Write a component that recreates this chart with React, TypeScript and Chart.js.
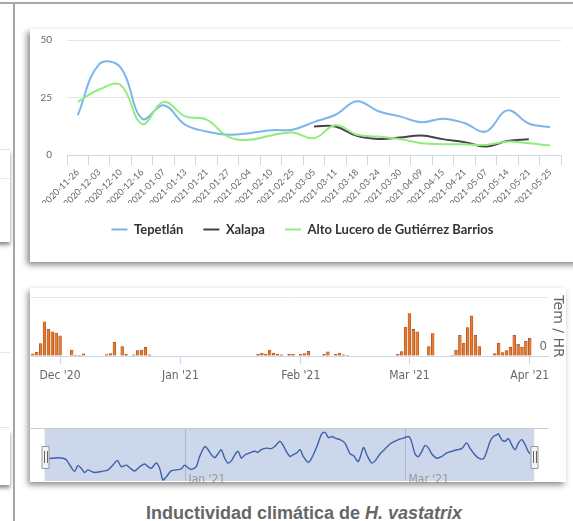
import React, { useEffect, useRef } from 'react';
import { Chart, registerables } from 'chart.js';

Chart.register(...registerables);

// ---------- Top chart (weekly index by locality) ----------
const weekLabels = [
  '2020-11-26', '2020-12-03', '2020-12-10', '2020-12-16', '2021-01-07', '2021-01-13',
  '2021-01-21', '2021-01-27', '2021-02-04', '2021-02-10', '2021-02-25', '2021-03-05',
  '2021-03-11', '2021-03-18', '2021-03-24', '2021-03-30', '2021-04-09', '2021-04-15',
  '2021-04-21', '2021-05-07', '2021-05-14', '2021-05-21', '2021-05-25',
];
const tepetlan = [17.3, 39.5, 38, 15.8, 21.6, 13.2, 10.2, 8.8, 9.5, 10.8, 11, 14.3, 17.5, 23.4, 19, 16.8, 14.2, 15.8, 13.9, 10.2, 19.4, 13.7, 12.1];
const xalapa = [null, null, null, null, null, null, null, null, null, null, null, 12.4, 12.4, 8.3, 7, 7.6, 8.5, 6.9, 5.6, 3.7, 6.1, 6.9, null];
const altoLucero = [23.1, 28.5, 30.4, 13.5, 23.1, 16.8, 15.4, 8, 6.6, 8.5, 9.8, 7.3, 12.9, 8.8, 8, 6.9, 5.1, 4.7, 4.7, 4.4, 5.8, 5.1, 4.1];
const seriesNames = ['Tepetlán', 'Xalapa', 'Alto Lucero de Gutiérrez Barrios'];
const yTicksTop = [0, 25, 50];

// ---------- Bottom chart (daily Tem / HR bars) ----------
const barStartDate = '2020-11-24';
const barValues = [
  0.35, 0.64, 2.1, 5.8, 4.5, 4.1, 3.9, 3.4,
  0, 0, 1.0, 0.17, 0.1, 0.35,
  0, 0, 0, 0, 0,
  0.25, 0.4, 2.3, 0, 1.6, 0.3,
  0, 0.2, 0.9, 1.0, 1.5, 0.2,
  0, 0, 0, 0, 0, 0, 0, 0, 0, 0, 0, 0, 0, 0, 0, 0, 0, 0, 0, 0, 0, 0, 0, 0, 0, 0, 0,
  0.3, 0.5, 0.3, 1.0, 0.5, 0.3, 0.2,
  0, 0.3, 0.3, 0, 0.3, 0.4, 0.8,
  0, 0, 0,
  0.3, 0.7, 0, 0.3, 0.5, 0.2, 0.1,
  0, 0, 0, 0, 0, 0, 0, 0, 0, 0, 0, 0,
  0.3, 0.75, 4.9, 7.2, 4.5, 4.1,
  0, 0,
  1.6, 3.8,
  0, 0, 0, 0,
  0.1, 1.0, 3.5, 2.2, 4.8, 6.8, 3.5, 1.6,
  0, 0, 0,
  0.4, 2.2, 0.6, 0.9, 1.5, 3.5, 2.0, 1.5, 2.5, 3.0,
];
const monthTickDates = ['2020-12-01', '2021-01-01', '2021-02-01', '2021-03-01', '2021-04-01'];
const monthTickLabels = ["Dec '20", "Jan '21", "Feb '21", "Mar '21", "Apr '21"];
const barRange = ['2020-11-23', '2021-04-05'];

// ---------- Navigator ----------
const navDays = [
  -5.4, -4.7, -2.9, -1.6, -0.7, 0.7, 1.5, 2.4, 3.3, 4.2, 5.1, 6.0, 6.9, 8.7, 10.5,
  11.8, 13.0, 14.0, 15.4, 16.3, 17.6, 19.0, 20.3, 21.2, 22.1, 23.4, 24.3, 25.2, 26.1, 27.4,
  28.8, 30.1, 31.0, 31.9, 32.8, 34.1, 35.0, 36.4, 37.3, 38.0, 39.0, 39.9, 40.8, 41.7, 42.6,
  43.5, 44.4, 45.3, 46.2, 47.1, 48.4, 49.8, 50.6, 51.5, 52.9, 54.2, 55.1, 56.5, 57.3, 58.2, 59.2,
  59.7, 61.0, 61.9, 62.8, 64.1, 65.0, 66.4, 67.7, 68.6, 69.5, 70.4, 71.3, 72.6, 73.9, 75.3,
  76.2, 77.5, 78.9, 79.8, 81.1, 82.0, 83.3, 84.7, 86.4, 88.2, 89.6, 90.9, 91.6, 92.7, 93.6,
  94.5, 95.4, 96.3, 97.2, 98.5, 99.8, 101.2, 102.5, 103.9, 105.2, 106.5, 107.4, 108.3, 109.7, 111.0,
  111.9, 112.8, 113.7, 114.6, 115.0, 115.9, 116.8, 117.7, 118.6, 119.5, 120.4, 121.3, 122.2, 123.0, 123.5,
];
const navValues = [
  42, 43, 44, 43, 40, 25, 18, 29, 24, 16, 21, 18, 16, 18, 21,
  30, 39, 27, 30, 25, 19, 27, 32, 27, 24, 34, 24, 2, 8, 19,
  21, 23, 30, 25, 22, 27, 46, 65, 59, 51, 44, 51, 59, 43, 34,
  38, 49, 56, 43, 49, 53, 56, 54, 59, 62, 61, 65, 75, 68, 56, 46,
  48, 53, 59, 46, 35, 43, 65, 89, 92, 82, 84, 81, 78, 72, 51,
  48, 37, 63, 49, 34, 38, 51, 61, 72, 78, 81, 84, 78, 51, 46,
  56, 67, 62, 51, 43, 46, 53, 56, 59, 61, 72, 62, 53, 43, 42,
  56, 75, 84, 87, 89, 78, 75, 80, 68, 59, 72, 78, 68, 56, 51,
];
const navTickDates = ['2021-01-01', '2021-03-01'];
const navTickLabels = ["Jan '21", "Mar '21"];
const navSelection = [-6.5, 124.6];
const navExtent = [-10.95, 128.3];

const caption = 'Inductividad climática de ';
const captionItalic = 'H. vastatrix';

const BASE = Date.UTC(2020, 11, 1);
const dayOf = (s: string) => {
  const [y, m, d] = s.split('-').map(Number);
  return (Date.UTC(y, m - 1, d) - BASE) / 86400000;
};

const NARROW = "'DejaVu Sans Condensed', 'Liberation Sans Narrow', sans-serif";

const legendShift = {
  id: 'legendShift',
  afterLayout(chart: any) {
    const l = chart.legend;
    if (l) {
      l.left += 7;
      l.right += 7;
    }
  },
};

const zeroLabel = {
  id: 'zeroLabel',
  afterDraw(chart: any) {
    const { ctx, chartArea: a, scales } = chart;
    ctx.save();
    ctx.font = `13px ${NARROW}`;
    ctx.fillStyle = '#666';
    ctx.textAlign = 'right';
    ctx.textBaseline = 'middle';
    ctx.fillText('0', a.right - 1, scales.y.getPixelForValue(0) - 9);
    ctx.restore();
  },
};

const navPlugin = {
  id: 'navPlugin',
  beforeDatasetsDraw(chart: any) {
    const { ctx, chartArea: a, scales } = chart;
    const x = scales.x;
    ctx.save();
    const x0 = x.getPixelForValue(navSelection[0]);
    const x1 = x.getPixelForValue(navSelection[1]);
    ctx.fillStyle = 'rgba(102,133,194,0.33)';
    ctx.fillRect(x0, a.top, x1 - x0, a.bottom - a.top);
    ctx.strokeStyle = 'rgba(80,90,120,0.28)';
    ctx.lineWidth = 1;
    ctx.font = `12px ${NARROW}`;
    ctx.fillStyle = '#999';
    ctx.textAlign = 'left';
    ctx.textBaseline = 'alphabetic';
    navTickDates.forEach((d, i) => {
      const px = Math.round(x.getPixelForValue(dayOf(d))) + 0.5;
      ctx.beginPath();
      ctx.moveTo(px, a.top);
      ctx.lineTo(px, a.bottom);
      ctx.stroke();
      ctx.fillText(navTickLabels[i], px + 3, chart.height - 1);
    });
    ctx.strokeStyle = '#cccccc';
    ctx.beginPath();
    ctx.moveTo(a.left, a.top + 0.5);
    ctx.lineTo(a.right, a.top + 0.5);
    ctx.stroke();
    ctx.restore();
  },
  afterDatasetsDraw(chart: any) {
    const { ctx, chartArea: a, scales } = chart;
    const x = scales.x;
    ctx.save();
    const cy = a.top + 29;
    navSelection.forEach((v) => {
      const cx = Math.round(x.getPixelForValue(v));
      const w = 7;
      const h = 22;
      ctx.fillStyle = '#f2f2f2';
      ctx.strokeStyle = '#999';
      ctx.lineWidth = 1;
      ctx.beginPath();
      ctx.rect(cx - w / 2 + 0.5, Math.round(cy - h / 2) + 0.5, w, h);
      ctx.fill();
      ctx.stroke();
      ctx.strokeStyle = '#666';
      ctx.beginPath();
      ctx.moveTo(cx - 0.5, cy - 6);
      ctx.lineTo(cx - 0.5, cy + 6);
      ctx.moveTo(cx + 2.5, cy - 6);
      ctx.lineTo(cx + 2.5, cy + 6);
      ctx.stroke();
    });
    ctx.restore();
  },
};

export default function App() {
  const lineRef = useRef<HTMLCanvasElement>(null);
  const barRef = useRef<HTMLCanvasElement>(null);
  const navRef = useRef<HTMLCanvasElement>(null);

  useEffect(() => {
    document.body.style.margin = '0';
    const charts: Chart[] = [];

    const colors = ['#7cb5ec', '#434348', '#90ed7d'];
    const seriesData = [tepetlan, xalapa, altoLucero];
    charts.push(
      new Chart(lineRef.current!, {
        type: 'line',
        data: {
          labels: weekLabels,
          datasets: seriesData.map((d, i) => ({
            label: seriesNames[i],
            data: d as any,
            borderColor: colors[i],
            backgroundColor: colors[i],
            borderWidth: 2,
            pointRadius: 0,
            tension: 0.4,
            order: 3 - i,
          })),
        },
        options: {
          responsive: false,
          animation: false,
          layout: { padding: { top: 9, right: 9, left: 0, bottom: 0 } },
          plugins: {
            legend: {
              position: 'bottom',
              labels: {
                usePointStyle: true,
                pointStyle: 'line',
                pointStyleWidth: 16,
                padding: 20,
                color: '#333',
                font: { family: 'Lato', size: 13, weight: 'bold' },
                sort: (a: any, b: any) => a.datasetIndex - b.datasetIndex,
              },
            },
            tooltip: { enabled: false },
          },
          scales: {
            x: {
              offset: true,
              grid: { offset: true, drawOnChartArea: false, tickLength: 10, color: '#ccd6eb' },
              border: { color: '#ccd6eb' },
              ticks: {
                minRotation: 45,
                maxRotation: 45,
                autoSkip: false,
                color: '#666',
                font: { family: 'Lato', size: 9 },
                padding: 2,
              },
              afterFit: (s: any) => {
                s.height = 48;
              },
            },
            y: {
              min: 0,
              max: 50,
              afterBuildTicks: (s: any) => {
                s.ticks = yTicksTop.map((v) => ({ value: v }));
              },
              ticks: { color: '#666', font: { family: 'Lato', size: 10 }, padding: 15 },
              grid: { color: '#e6e6e6', drawTicks: false },
              border: { display: false },
              afterFit: (s: any) => {
                s.width = 37;
              },
            },
          },
        } as any,
        plugins: [legendShift],
      })
    );

    const start = dayOf(barStartDate);
    const barPoints = barValues
      .map((v, i) => ({ x: start + i, y: v }))
      .filter((p) => p.y > 0);
    const monthDays = monthTickDates.map(dayOf);
    charts.push(
      new Chart(barRef.current!, {
        type: 'bar',
        data: {
          datasets: [
            {
              label: 'Tem / HR',
              data: barPoints as any,
              backgroundColor: '#e8792f',
              borderColor: '#9c4a1a',
              borderWidth: 0.6,
              barThickness: 2.8,
            },
          ],
        },
        options: {
          responsive: false,
          animation: false,
          layout: { padding: { top: 7, left: 0, right: 0, bottom: 0 } },
          plugins: { legend: { display: false }, tooltip: { enabled: false } },
          scales: {
            x: {
              type: 'linear',
              offset: false,
              min: dayOf(barRange[0]) + 0.0,
              max: dayOf(barRange[1]) + 0.7,
              afterBuildTicks: (s: any) => {
                s.ticks = monthDays.map((v) => ({ value: v }));
              },
              ticks: {
                callback: (v: any) => {
                  const i = monthDays.indexOf(v);
                  return i >= 0 ? monthTickLabels[i] : '';
                },
                autoSkip: false,
                maxRotation: 0,
                color: '#666',
                font: { family: NARROW, size: 12 },
                padding: 5,
              },
              grid: { offset: false, drawOnChartArea: false, tickLength: 8, color: '#ccd6eb' },
              border: { color: '#ccd6eb' },
              afterFit: (s: any) => {
                s.height = 34;
              },
            },
            y: {
              position: 'right',
              min: 0,
              max: 10,
              afterBuildTicks: (s: any) => {
                s.ticks = [{ value: 0 }, { value: 10 }];
              },
              ticks: { display: false },
              grid: {
                color: (c: any) => (c.tick && c.tick.value === 0 ? 'rgba(0,0,0,0)' : '#e6e6e6'),
                drawTicks: false,
              },
              border: { display: false },
              title: {
                display: true,
                text: 'Tem / HR',
                color: '#666',
                font: { family: 'DejaVu Sans', size: 14 },
                padding: 0,
              },
              afterFit: (s: any) => {
                s.width = 18;
              },
            },
          },
        } as any,
        plugins: [zeroLabel],
      })
    );

    charts.push(
      new Chart(navRef.current!, {
        type: 'line',
        data: {
          datasets: [
            {
              data: navDays.map((d, i) => ({ x: d, y: navValues[i] })) as any,
              borderColor: '#3f62aa',
              borderWidth: 1.4,
              pointRadius: 0,
              tension: 0.3,
            },
          ],
        },
        options: {
          responsive: false,
          animation: false,
          layout: { padding: { top: 0, left: 0, right: 0, bottom: 3 } },
          plugins: { legend: { display: false }, tooltip: { enabled: false } },
          scales: {
            x: { type: 'linear', display: false, min: navExtent[0], max: navExtent[1] },
            y: { display: false, min: 0, max: 100 },
          },
        } as any,
        plugins: [navPlugin],
      })
    );

    return () => charts.forEach((c) => c.destroy());
  }, []);

  const abs = (l: number, t: number, w: number, h: number): React.CSSProperties => ({
    position: 'absolute',
    left: l,
    top: t,
    width: w,
    height: h,
  });

  return (
    <div style={{ position: 'absolute', left: 0, top: 0, width: 573, height: 521, overflow: 'hidden', background: '#fff' }}>
      {/* page frame */}
      <div style={{ ...abs(0, 2, 573, 2), background: '#a8a8a8' }} />
      <div style={{ ...abs(13, 2, 2, 519), background: '#a8a8a8' }} />
      {/* left panel remnants */}
      <div style={{ ...abs(-40, 150, 50, 92), background: '#fff', boxShadow: '0 3px 4px rgba(0,0,0,0.45)' }} />
      <div style={{ ...abs(0, 149, 10, 1), background: '#e2e2e2' }} />
      <div style={{ ...abs(0, 178, 10, 1), background: '#e8e8e8' }} />
      <div style={{ ...abs(0, 352, 10, 1), background: '#e8e8e8' }} />
      <div style={{ ...abs(0, 427, 10, 1), background: '#e8e8e8' }} />
      <div style={{ ...abs(-40, 430, 50, 55), background: '#fff', boxShadow: '0 3px 4px rgba(0,0,0,0.45)' }} />
      {/* cards */}
      <div style={{ ...abs(30, 29, 580, 233), background: '#fff', boxShadow: '-3px 3px 6px rgba(0,0,0,0.45)' }} />
      <div style={{ ...abs(30, 288, 536, 194), background: '#fff', boxShadow: '-2px 3px 6px rgba(0,0,0,0.45)' }} />
      <canvas ref={lineRef} width={540} height={227} style={{ ...abs(30, 19, 540, 227) }} />
      <canvas ref={barRef} width={537} height={100} style={{ ...abs(29, 290, 537, 100) }} />
      <canvas ref={navRef} width={520} height={56} style={{ ...abs(28, 428, 520, 56) }} />
      <div
        style={{
          position: 'absolute',
          left: 0,
          top: 503,
          width: 608,
          textAlign: 'center',
          font: "bold 18px 'Liberation Sans', Arial, sans-serif",
          color: '#666',
          lineHeight: '20px',
          whiteSpace: 'nowrap',
        }}
      >
        {caption}
        <i>{captionItalic}</i>
      </div>
    </div>
  );
}
